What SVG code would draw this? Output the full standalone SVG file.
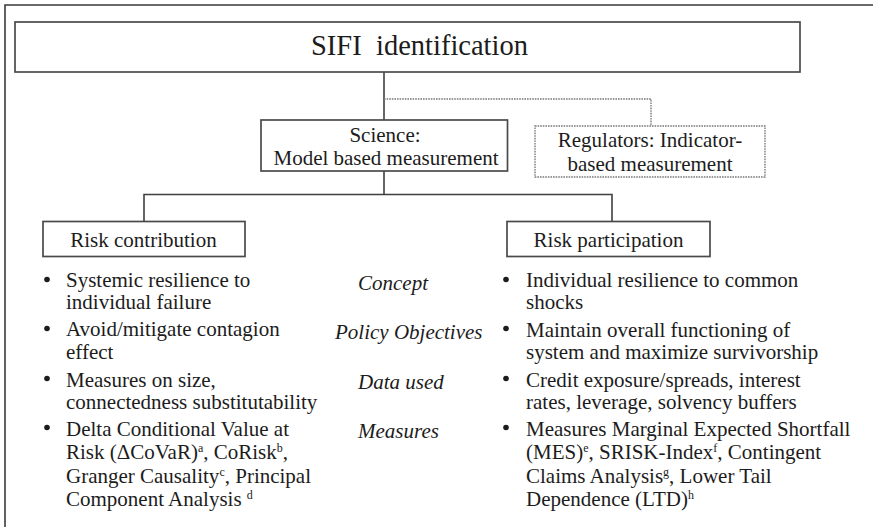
<svg xmlns="http://www.w3.org/2000/svg" width="873" height="527" viewBox="0 0 873 527" font-family="'Liberation Serif', 'Times New Roman', serif">
<style>
  .bg { fill: #ffffff; }
  .frame { fill: none; stroke: #3a3a3a; stroke-width: 1.6; }
  .box { fill: #ffffff; stroke: #4a4a4a; stroke-width: 1.7; }
  .dbox { fill: #ffffff; stroke: #7a7a7a; stroke-width: 1.4; stroke-dasharray: 1.6 1; }
  .conn { fill: none; stroke: #3f3f3f; stroke-width: 1.6; }
  .dconn { fill: none; stroke: #7a7a7a; stroke-width: 1.4; stroke-dasharray: 1.6 1; }
  text { font-family: 'Liberation Serif', 'Times New Roman', serif; fill: #1c1c1c; }
  .t { font-size: 21px; }
  .c { text-anchor: middle; }
  .it { font-style: italic; font-size: 21px; }
  .sup { font-size: 12px; }
  .dot { fill: #1c1c1c; }
</style>
<rect class="bg" x="0" y="0" width="873" height="527"/>
<path class="frame" d="M5,527 L5,5 L873,5"/>

<g id="connectors">
  <path class="conn" d="M384,72 L384,120"/>
  <path class="dconn" d="M384,99 L651,99 L651,126"/>
  <path class="conn" d="M384,171 L384,194.5"/>
  <path class="conn" d="M144,221.5 L144,194.5 L612,194.5 L612,221.5"/>
</g>

<g id="sifi">
  <rect class="box" x="15" y="22" width="785" height="50"/>
  <text style="font-size:28.5px"><tspan x="311" y="55">SIFI</tspan><tspan x="376" y="55">identification</tspan></text>
</g>

<g id="science">
  <rect class="box" x="261" y="120" width="246.5" height="51"/>
  <text class="t c" x="385" y="141.7">Science:</text>
  <text class="t c" x="386" y="164.5">Model based measurement</text>
</g>

<g id="regulators">
  <rect class="dbox" x="535" y="126" width="230" height="51"/>
  <text class="t c" x="650" y="147">Regulators: Indicator-</text>
  <text class="t c" x="650" y="170.5">based measurement</text>
</g>

<g id="risk-contribution">
  <rect class="box" x="43" y="221.5" width="202" height="35"/>
  <text class="t c" x="143.5" y="246.5">Risk contribution</text>
</g>

<g id="risk-participation">
  <rect class="box" x="507" y="221.5" width="203" height="35"/>
  <text class="t c" x="608.5" y="246.5">Risk participation</text>
</g>

<g id="criteria-labels">
  <text class="it" x="358" y="290">Concept</text>
  <text class="it" x="335" y="338.5">Policy Objectives</text>
  <text class="it" x="358" y="388.5">Data used</text>
  <text class="it" x="358" y="438">Measures</text>
</g>

<g id="contribution-list">
  <circle class="dot" cx="47" cy="279.5" r="2.8"/>
  <circle class="dot" cx="47" cy="328.5" r="2.8"/>
  <circle class="dot" cx="47" cy="378.5" r="2.8"/>
  <circle class="dot" cx="47" cy="427.5" r="2.8"/>
  <text class="t" x="66" y="287">Systemic resilience to</text>
  <text class="t" x="66" y="309">individual failure</text>
  <text class="t" x="66" y="336">Avoid/mitigate contagion</text>
  <text class="t" x="66" y="358.5">effect</text>
  <text class="t" x="66" y="386.5">Measures on size,</text>
  <text class="t" x="66" y="408.5">connectedness substitutability</text>
  <text class="t" x="66" y="435.5">Delta Conditional Value at</text>
  <text class="t" x="66" y="459">Risk (ΔCoVaR)<tspan class="sup" baseline-shift="7">a</tspan>, CoRisk<tspan class="sup" baseline-shift="7">b</tspan>,</text>
  <text class="t" x="66" y="482.5">Granger Causality<tspan class="sup" baseline-shift="7">c</tspan>, Principal</text>
  <text class="t" x="66" y="505.5">Component Analysis <tspan class="sup" baseline-shift="7">d</tspan></text>
</g>

<g id="participation-list">
  <circle class="dot" cx="506" cy="279.5" r="2.8"/>
  <circle class="dot" cx="506" cy="328.5" r="2.8"/>
  <circle class="dot" cx="506" cy="378.5" r="2.8"/>
  <circle class="dot" cx="506" cy="427.5" r="2.8"/>
  <text class="t" x="526" y="287">Individual resilience to common</text>
  <text class="t" x="526" y="309">shocks</text>
  <text class="t" x="526" y="336.5">Maintain overall functioning of</text>
  <text class="t" x="526" y="358.5">system and maximize survivorship</text>
  <text class="t" x="526" y="386.5">Credit exposure/spreads, interest</text>
  <text class="t" x="526" y="408.5">rates, leverage, solvency buffers</text>
  <text class="t" x="526" y="435.5">Measures Marginal Expected Shortfall</text>
  <text class="t" x="526" y="459">(MES)<tspan class="sup" baseline-shift="7">e</tspan>, SRISK-Index<tspan class="sup" baseline-shift="7">f</tspan>, Contingent</text>
  <text class="t" x="526" y="482.5">Claims Analysis<tspan class="sup" baseline-shift="7">g</tspan>, Lower Tail</text>
  <text class="t" x="526" y="505.5">Dependence (LTD)<tspan class="sup" baseline-shift="7">h</tspan></text>
</g>
</svg>
